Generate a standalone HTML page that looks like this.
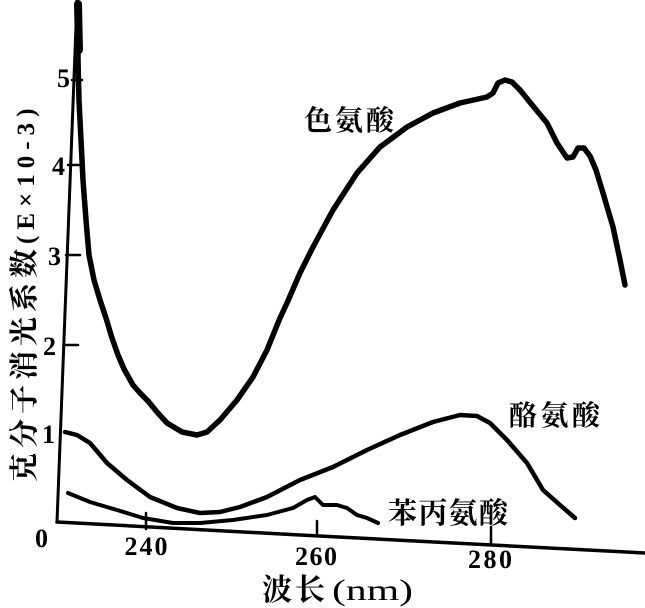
<!DOCTYPE html>
<html><head><meta charset="utf-8"><style>
html,body{margin:0;padding:0;background:#fff;}
svg{display:block;}
.n{font-family:"Liberation Serif",serif;font-weight:bold;font-size:26px;fill:#000;}
.c{font-family:"Liberation Serif","Noto Serif CJK SC","Noto Sans CJK SC",serif;font-weight:bold;fill:#000;}
</style></head><body>
<svg width="645" height="608" viewBox="0 0 645 608" xmlns="http://www.w3.org/2000/svg">
<g fill="none" stroke="#000" stroke-linecap="round" stroke-linejoin="round">
<!-- axes -->
<polyline points="77,0 57,522" stroke-width="3"/>
<polyline points="57,522 300,535 645,553" stroke-width="3.5"/>
<!-- y ticks -->
<line x1="68" y1="165" x2="80" y2="165" stroke-width="2.5"/>
<line x1="66" y1="255" x2="80" y2="255" stroke-width="2.5"/>
<line x1="64" y1="345" x2="78" y2="345" stroke-width="2.5"/>
<line x1="72" y1="80" x2="82" y2="80" stroke-width="2.5"/>
<!-- x ticks -->
<line x1="146" y1="513" x2="146" y2="529" stroke-width="2.5"/>
<line x1="317" y1="521" x2="317" y2="535" stroke-width="2.5"/>
<line x1="491" y1="527" x2="491" y2="543" stroke-width="2.5"/>
<!-- tryptophan -->
<polyline stroke-width="5.5" points="78,4 78,30 78,60 79,100 81,140 83,180 86,220 89,255 94,280 100,300 106,318 112,338 118,355 124,369 133,385 140,393 148,401 157,412 167,423 182,432 197,435 207,432 220,420 237,400 253,377 267,350 280,318 287,303 300,273 313,247 333,210 357,173 380,147 407,127 433,113 460,103 487,97 493,93 498,83 505,80 512,82 520,90 533,106 547,123 557,143 567,158 573,157 578,148 584,148 590,156 596,170 603,193 613,227 620,260 625,285"/>
<polyline stroke-width="8" points="78,4 79,50"/>
<!-- tyrosine -->
<polyline stroke-width="4.5" points="65,432 77,435 90,443 107,463 127,480 150,497 177,508 200,513 220,512 240,507 267,497 300,480 333,467 367,450 400,435 433,422 460,415 477,416 490,423 507,440 527,463 543,490 560,505 575,518"/>
<!-- phenylalanine -->
<polyline stroke-width="4" points="68,493 90,502 117,510 143,518 173,523 200,523 233,520 267,515 293,508 307,500 315,497 323,505 327,505 337,505 347,508 357,515 367,518 378,523"/>
</g>
<!-- y tick labels -->
<text class="n" x="57" y="87">5</text>
<text class="n" x="52" y="175">4</text>
<text class="n" x="48" y="265">3</text>
<text class="n" x="43" y="355">2</text>
<text class="n" x="42" y="443">1</text>
<text class="n" x="35" y="547">0</text>
<!-- x tick labels -->
<text class="n" x="146" y="555" text-anchor="middle" textLength="43">240</text>
<text class="n" x="316" y="565" text-anchor="middle" textLength="42">260</text>
<text class="n" x="490" y="568" text-anchor="middle" textLength="44">280</text>
<!-- series labels -->
<text class="c" x="304" y="130" font-size="28" textLength="90">色氨酸</text>
<text class="c" x="509" y="425" font-size="28" textLength="91">酪氨酸</text>
<text class="c" x="388" y="523" font-size="29" textLength="120">苯丙氨酸</text>
<!-- axis titles -->
<text class="c" x="262" y="600" font-size="30" letter-spacing="3">波长</text>
<text class="c" x="332" y="600" font-size="30" style="font-weight:normal" textLength="81" lengthAdjust="spacingAndGlyphs">(nm)</text>
<text class="c" transform="translate(34,482) rotate(-90)" x="0" y="0" font-size="29"><tspan letter-spacing="5">克分子消光系数</tspan><tspan font-size="25" letter-spacing="6">(E×10-3)</tspan></text>
</svg>
</body></html>
